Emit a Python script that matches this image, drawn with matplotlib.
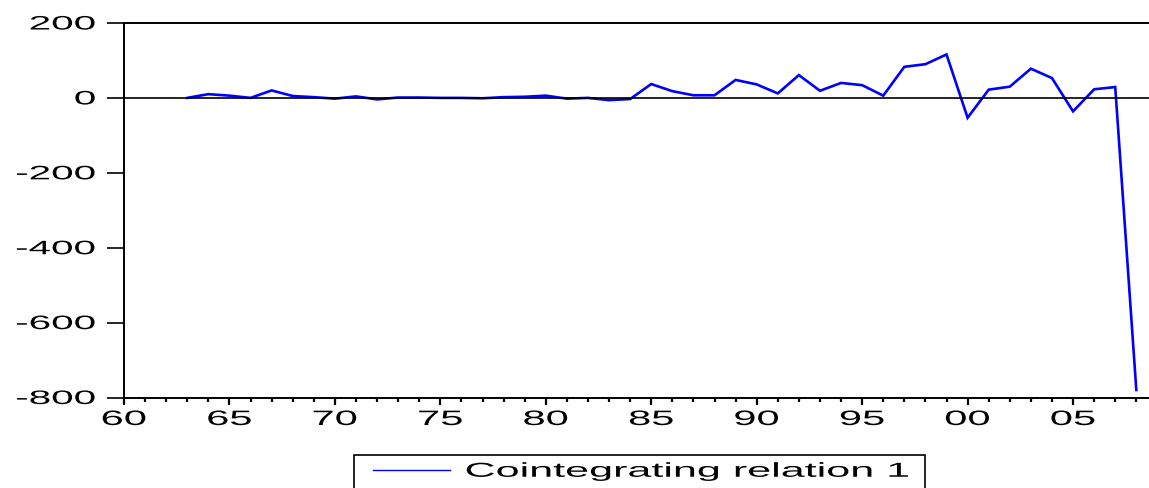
import numpy as np
import matplotlib
matplotlib.use("Agg")
import matplotlib.pyplot as plt
from matplotlib import patheffects
from matplotlib.lines import Line2D
from matplotlib.patches import Rectangle
from matplotlib.transforms import Affine2D

years = np.arange(1963, 2009)
relation = [0, 10, 6, 0, 20, 5, 2, -2, 4, -4,
            1, 1, 0, 0, -1, 2, 3, 6, -2, 0,
            -6, -3, 37, 18, 7, 7, 48, 36, 12, 61,
            19, 40, 34, 6, 83, 90, 116, -53, 22, 30,
            78, 53, -36, 23, 29, -780]

xtick_years = np.arange(1960, 2010, 5)
xtick_labels = ["60", "65", "70", "75", "80", "85", "90", "95", "00", "05"]
ytick_values = [-800, -600, -400, -200, 0, 200]
ytick_labels = ["-800", "-600", "-400", "-200", "0", "200"]
series_name = "Cointegrating relation 1"

plt.rcParams["font.family"] = ["Liberation Sans", "DejaVu Sans"]


class Widen(patheffects.AbstractPathEffect):
    """Stretch glyph outlines horizontally about one edge of the text."""

    def __init__(self, factor, anchor="left"):
        super().__init__()
        self.factor = factor
        self.anchor = anchor

    def draw_path(self, renderer, gc, tpath, affine, rgbFace=None):
        box = tpath.get_extents(affine)
        x0 = {"left": box.x0, "center": 0.5 * (box.x0 + box.x1),
              "right": box.x1}[self.anchor]
        stretch = Affine2D().translate(-x0, 0).scale(self.factor, 1).translate(x0, 0)
        renderer.draw_path(gc, tpath, affine + stretch, rgbFace)


fig = plt.figure(figsize=(11.49, 4.89), dpi=100)
ax = fig.add_axes([124 / 1149, 1 - 398.5 / 489, 49 * 21.09 / 1149, 374.5 / 489])

ax.plot(years, relation, color="#0000ff", lw=1.9, solid_joinstyle="miter")
ax.axhline(0, color="black", lw=1.2)

ax.set_xlim(1960, 2009)
ax.set_ylim(-800, 200)
ax.set_xticks(xtick_years, xtick_labels)
ax.set_xticks(np.arange(1960, 2009), minor=True)
ax.set_yticks(ytick_values, ytick_labels)

for side in ["left", "top", "bottom"]:
    ax.spines[side].set_linewidth(1.4)
ax.spines["right"].set_visible(False)

ax.tick_params(axis="y", direction="out", length=12.5, width=1.2, pad=8,
               labelsize=14)
ax.tick_params(axis="x", which="major", direction="out", length=5, width=1.6,
               pad=4, labelsize=15)
ax.tick_params(axis="x", which="minor", direction="out", length=3, width=1.6)

for lab in ax.get_yticklabels():
    lab.set_path_effects([Widen(2.08, "right")])
for lab in ax.get_xticklabels():
    lab.set_path_effects([Widen(2.0, "center")])

# legend below the plot, frame drawn separately so it spans the widened label
handle = Line2D([], [], color="#0000ff", lw=1.0)
leg = fig.legend([handle], [series_name], loc="upper left",
                 bbox_to_anchor=(366 / 1149, 1 - 455.7 / 489),
                 borderaxespad=0, frameon=False, borderpad=0.35,
                 handlelength=3.8, handletextpad=0.8, fontsize=14.5)
for txt in leg.get_texts():
    txt.set_path_effects([Widen(2.14, "left")])

fig.add_artist(Rectangle((354 / 1149, -0.1), (925 - 354) / 1149,
                         1 - 455.7 / 489 + 0.1, transform=fig.transFigure,
                         fill=False, ec="black", lw=1.2))

fig.savefig("out.png", dpi=100)
